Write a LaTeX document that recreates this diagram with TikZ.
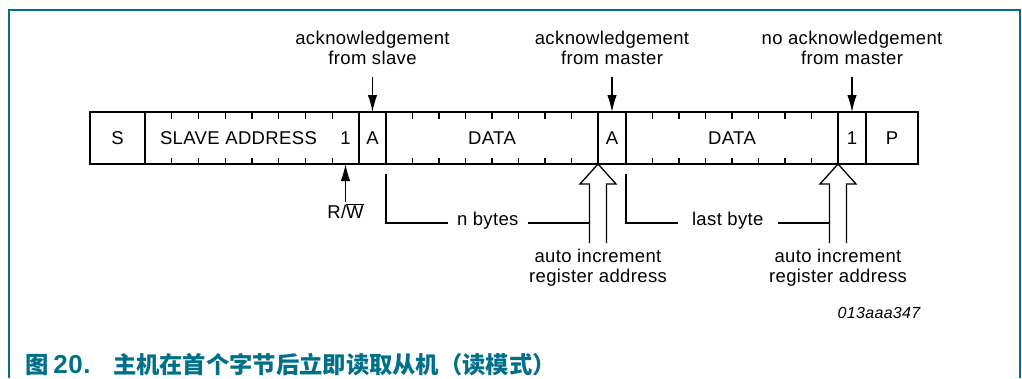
\documentclass[tikz,border=0pt]{standalone}
\usepackage{fontspec}
\setmainfont{Liberation Sans}[LetterSpace=2]
\newfontfamily\cjk{Noto Sans CJK SC}
\usetikzlibrary{arrows.meta,positioning,calc}
\definecolor{nxpteal}{RGB}{0,111,138}
\tikzstyle{field} = [minimum height=52pt, inner sep=0pt, outer sep=0pt]
\tikzstyle{lbl} = [align=center, inner sep=0pt, outer sep=0pt]
\tikzstyle{bar} = [line width=1.4pt]
\tikzstyle{tick} = [line width=1.2pt]
\tikzstyle{ackarrow} = [line width=1.3pt, -{Latex[length=17pt,width=9.5pt]}]
\tikzstyle{bracket} = [line width=1.3pt]
\tikzstyle{hollow} = [line width=1.3pt, line join=miter]

\begin{document}
\begin{tikzpicture}[x=1pt, y=1pt, font=\fontsize{18.5}{20}\selectfont]
  \useasboundingbox (0,0) rectangle (1022,-378);
  \draw[nxpteal, line width=2.5pt] (9,-378) -- (9,-10) -- (1020,-10) -- (1020,-378);

  % the transfer frame
  \node[field, minimum width=55pt] (s) at (117.5,-138) {S};
  \node[field, minimum width=187pt, right=0pt of s] (addr) {SLAVE ADDRESS};
  \node[field, minimum width=27pt, right=0pt of addr] (rw) {1};
  \node[field, minimum width=27pt, right=0pt of rw] (ack1) {A};
  \node[field, minimum width=212pt, right=0pt of ack1] (data1) {DATA};
  \node[field, minimum width=28pt, right=0pt of data1] (ack2) {A};
  \node[field, minimum width=212pt, right=0pt of ack2] (data2) {DATA};
  \node[field, minimum width=28pt, right=0pt of data2] (nack) {1};
  \node[field, minimum width=52pt, right=0pt of nack] (p) {P};
  \draw[bar] (s.north west) rectangle (p.south east);
  \foreach \n in {s,rw,ack1,data1,ack2,data2,nack}
    \draw[bar] (\n.north east) -- (\n.south east);
  \foreach \a/\b in {addr/rw,data1/data1,data2/data2}
    \foreach \k in {1,...,7} {
      \draw[tick] ($(\a.north west)!\k/8!(\b.north east)$) -- ++(0,-6.5);
      \draw[tick] ($(\a.south west)!\k/8!(\b.south east)$) -- ++(0,6.5);
    }

  % acknowledge bits
  \node[lbl, above=47pt of ack1.north] (ackslave) {acknowledgement\\from slave};
  \node[lbl, above=47pt of ack2.north] (ackmaster) {acknowledgement\\from master};
  \node[lbl, above=47pt of nack.north] (nackmaster) {no acknowledgement\\from master};
  \foreach \l/\f in {ackslave/ack1,ackmaster/ack2,nackmaster/nack}
    \draw[ackarrow, shorten <=12pt] (\l.south) -- (\f.north);

  \node[lbl, below=40pt of rw.south] (rwbit) {R/$\overline{\mbox{W}}$};
  \draw[ackarrow, shorten <=2pt] (rwbit.north) -- (rw.south);

  % byte counts
  \node[lbl, inner xsep=9pt, anchor=mid] (nbytes) at ($(data1.south)+(-4.25,-59)$) {n bytes};
  \node[lbl, inner xsep=14pt, anchor=mid] (lastbyte) at ($(data2.south)+(-4.25,-59)$) {last byte};
  \coordinate (shaft1) at ($(data1.south east)+(-8.5,-59)$);
  \coordinate (shaft2) at ($(data2.south east)+(-8.5,-59)$);
  \draw[bracket] ([yshift=-10pt]data1.south west) |- (nbytes.mid west);
  \draw[bracket] (nbytes.mid east) -- (shaft1);
  \draw[bracket] ([yshift=-10pt]data2.south west) |- (lastbyte.mid west);
  \draw[bracket] (lastbyte.mid east) -- (shaft2);

  % register pointer
  \node[lbl, below=85pt of data1.south east, font=\fontsize{18.5}{20.5}\selectfont] (inc1) {auto increment\\register address};
  \node[lbl, below=85pt of data2.south east, font=\fontsize{18.5}{20.5}\selectfont] (inc2) {auto increment\\register address};
  \foreach \t in {data1,data2}
    \draw[hollow] ($(\t.south east)+(-8.5,-79)$) -- ++(0,59) -- ++(-9.5,0) -- ++(18,20) -- ++(18,-20) -- ++(-9.5,0) -- ++(0,-59);

  \node[lbl, anchor=base, font=\itshape\fontsize{16}{16}\selectfont] (figid) at (879,-318) {013aaa347};

  % caption
  \node[lbl, anchor=base west, text=nxpteal, font=\bfseries] (fignum) at (25,-373) {{\cjk\fontsize{23.3}{24}\selectfont 图}\hspace{5pt}{\fontsize{26}{26}\selectfont 20.}};
  \node[lbl, anchor=base west, text=nxpteal] (figtitle) at (113,-373) {\cjk\bfseries\fontsize{23.3}{24}\selectfont 主机在首个字节后立即读取从机（读模式）};
\end{tikzpicture}
\end{document}
